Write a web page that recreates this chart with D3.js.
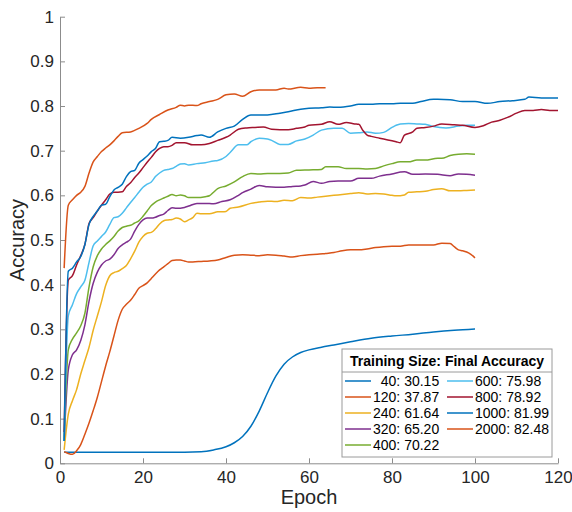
<!DOCTYPE html>
<html>
<head>
<meta charset="utf-8">
<script src="https://cdn.jsdelivr.net/npm/d3@7"></script>
<style>
  html, body { margin: 0; padding: 0; background: #fff; }
  svg { display: block; font-family: "Liberation Sans", Arial, Helvetica, sans-serif; }
  .axis text { fill: #262626; font-size: 17px; }
  .axis path, .axis line { stroke: #8c8c8c; }
</style>
</head>
<body>
<div id="chart"></div>
<script>
// training sizes and the final accuracy reported in the legend
var sizes = [40, 120, 240, 320, 400, 600, 800, 1000, 2000];
var finalAcc = [30.15, 37.87, 61.64, 65.20, 70.22, 75.98, 78.92, 81.99, 82.48];
var colors = ['#0072BD', '#D95319', '#EDB120', '#7E2F8E', '#77AC30', '#4DBEEE', '#A2142F', '#0072BD', '#D95319'];

var xTicks = [0, 20, 40, 60, 80, 100, 120];
var yTicks = [0, 0.1, 0.2, 0.3, 0.4, 0.5, 0.6, 0.7, 0.8, 0.9, 1];

// [epoch, accuracy]
var acc40 = [[1,.025],[10,.025],[20,.025],[30,.025],[34,.026],[37,.03],[40,.037],[42,.046],[44,.06],[46,.083],[48,.117],[50,.158],[52,.195],[54,.222],[56,.238],[58,.248],[60,.254],[63,.26],[66,.265],[70,.272],[75,.28],[80,.285],[85,.289],[90,.294],[95,.298],[100,.301]];
var acc120 = [[1,.026],[2,.022],[3,.02],[4,.028],[5,.042],[6,.065],[7,.09],[8,.118],[9,.148],[10,.183],[11,.218],[12,.25],[13,.285],[14,.32],[15,.345],[16,.356],[17,.365],[18,.378],[19,.392],[20,.398],[21,.404],[22,.414],[23,.424],[24,.433],[25,.44],[26,.447],[27,.454],[28,.455],[29,.455],[30,.453],[31,.451],[32,.451],[34,.452],[36,.453],[38,.455],[40,.461],[42,.466],[44,.467],[46,.466],[48,.465],[50,.467],[52,.466],[54,.464],[56,.462],[58,.465],[60,.467],[62,.468],[64,.47],[66,.472],[68,.476],[70,.478],[72,.478],[74,.48],[76,.483],[78,.485],[80,.486],[82,.486],[84,.489],[86,.489],[88,.489],[90,.489],[92,.493],[94,.492],[95,.485],[96,.478],[97,.476],[98,.473],[99,.468],[100,.46]];
var acc240 = [[1,.03],[2,.11],[3,.14],[4,.165],[5,.2],[6,.23],[7,.26],[8,.298],[9,.33],[10,.362],[11,.398],[12,.42],[13,.427],[14,.43],[15,.436],[16,.443],[17,.458],[18,.475],[19,.495],[20,.508],[21,.515],[22,.517],[23,.525],[24,.536],[25,.543],[26,.545],[27,.546],[28,.549],[29,.547],[30,.541],[31,.545],[32,.55],[33,.56],[34,.559],[36,.559],[38,.563],[40,.564],[41,.571],[43,.574],[46,.582],[48,.585],[50,.587],[52,.586],[54,.589],[56,.588],[58,.595],[60,.594],[62,.596],[64,.598],[66,.6],[68,.602],[70,.604],[72,.606],[74,.603],[76,.604],[78,.603],[80,.6],[81,.599],[83,.601],[84,.607],[86,.608],[88,.609],[90,.613],[92,.615],[94,.61],[96,.61],[98,.611],[100,.612]];
var acc320 = [[1,.05],[2,.209],[3,.243],[4,.254],[5,.275],[6,.31],[7,.363],[8,.403],[9,.428],[10,.444],[11,.453],[12,.457],[13,.467],[14,.481],[15,.489],[16,.495],[17,.502],[18,.52],[19,.535],[20,.545],[21,.549],[22,.549],[23,.551],[24,.555],[25,.558],[26,.566],[27,.572],[28,.571],[30,.573],[31,.576],[33,.582],[35,.582],[37,.581],[39,.586],[41,.59],[43,.6],[44,.606],[46,.614],[48,.622],[50,.619],[52,.618],[54,.618],[56,.62],[58,.621],[59,.623],[61,.631],[63,.627],[65,.631],[67,.632],[70,.632],[72,.638],[75,.638],[77,.643],[80,.648],[82,.652],[83,.653],[85,.647],[88,.648],[91,.647],[94,.644],[96,.648],[98,.647],[100,.645]];
var acc400 = [[1,.05],[2,.254],[3,.278],[4,.292],[5,.308],[6,.336],[7,.395],[8,.44],[9,.465],[10,.48],[11,.49],[12,.498],[13,.508],[14,.52],[15,.528],[16,.531],[17,.533],[18,.538],[19,.543],[20,.553],[21,.565],[22,.577],[23,.585],[24,.59],[25,.594],[26,.598],[27,.602],[28,.599],[29,.601],[30,.599],[31,.595],[33,.595],[35,.597],[36,.599],[37,.607],[38,.615],[40,.621],[42,.63],[44,.642],[46,.649],[48,.648],[50,.649],[53,.649],[55,.65],[57,.656],[60,.657],[63,.658],[64,.664],[67,.664],[69,.66],[72,.66],[74,.659],[76,.66],[78,.666],[80,.671],[82,.675],[84,.675],[86,.679],[88,.679],[91,.683],[92,.683],[94,.689],[96,.692],[98,.693],[100,.692]];
var acc600 = [[1,.05],[2,.33],[3,.355],[4,.38],[5,.395],[6,.41],[7,.45],[8,.487],[9,.498],[10,.508],[11,.518],[12,.535],[13,.55],[14,.552],[15,.56],[16,.572],[17,.584],[18,.595],[19,.607],[20,.618],[21,.625],[22,.63],[23,.642],[24,.65],[25,.656],[26,.658],[27,.66],[28,.665],[29,.67],[30,.671],[31,.668],[33,.671],[35,.673],[37,.677],[38,.678],[40,.687],[41,.696],[43,.713],[45,.713],[46,.72],[48,.728],[50,.726],[51,.723],[53,.714],[55,.714],[57,.722],[59,.726],[61,.735],[63,.746],[66,.75],[68,.75],[70,.739],[72,.74],[74,.742],[76,.739],[78,.741],[80,.752],[81,.757],[82,.76],[84,.761],[86,.76],[88,.759],[90,.754],[93,.751],[96,.755],[98,.757],[100,.757]];
var acc800 = [[1,.07],[2,.41],[3,.42],[4,.444],[5,.465],[6,.49],[7,.537],[8,.55],[9,.565],[10,.578],[11,.59],[12,.603],[13,.607],[14,.607],[15,.608],[16,.62],[17,.628],[18,.64],[19,.65],[20,.662],[21,.674],[22,.685],[23,.697],[24,.705],[25,.709],[26,.709],[27,.712],[28,.718],[30,.718],[32,.713],[34,.713],[36,.716],[38,.723],[40,.73],[41,.735],[43,.748],[45,.751],[47,.752],[49,.753],[51,.748],[53,.747],[55,.747],[57,.75],[59,.753],[60,.757],[63,.759],[65,.765],[67,.759],[69,.763],[71,.76],[72,.759],[73,.745],[74,.735],[75,.732],[77,.728],[79,.724],[81,.72],[82,.718],[83,.735],[85,.742],[86,.75],[88,.752],[90,.755],[92,.76],[95,.758],[97,.757],[100,.752],[102,.756],[104,.764],[106,.768],[108,.775],[110,.784],[112,.79],[114,.79],[116,.792],[118,.79],[120,.79]];
var acc1000 = [[1,.05],[2,.43],[3,.437],[4,.451],[5,.463],[6,.49],[7,.535],[8,.553],[9,.565],[10,.578],[11,.58],[12,.597],[13,.612],[14,.618],[15,.625],[16,.642],[17,.653],[18,.656],[19,.672],[20,.68],[21,.688],[22,.698],[23,.705],[24,.72],[25,.721],[26,.723],[27,.73],[29,.728],[31,.73],[33,.734],[34,.735],[36,.73],[38,.742],[40,.75],[42,.755],[44,.77],[46,.78],[48,.78],[50,.78],[53,.784],[55,.787],[58,.793],[60,.795],[63,.796],[65,.798],[67,.797],[70,.8],[72,.804],[75,.804],[77,.805],[80,.805],[82,.806],[85,.806],[87,.81],[90,.815],[91,.815],[94,.814],[97,.81],[100,.81],[103,.806],[106,.81],[109,.812],[112,.815],[113,.82],[116,.818],[120,.818]];
var acc2000 = [[1,.437],[2,.578],[3,.59],[4,.6],[5,.607],[6,.62],[7,.65],[8,.675],[9,.687],[10,.698],[11,.706],[12,.713],[13,.722],[14,.732],[15,.74],[17,.742],[19,.75],[21,.761],[22,.77],[24,.781],[26,.791],[28,.797],[29,.802],[30,.8],[31,.802],[33,.801],[34,.805],[36,.81],[38,.815],[40,.825],[42,.827],[44,.822],[46,.832],[48,.836],[50,.836],[52,.836],[54,.84],[55,.838],[58,.842],[60,.84],[62,.841],[64,.841]];

var curves = [acc40, acc120, acc240, acc320, acc400, acc600, acc800, acc1000, acc2000];

var width = 572, height = 512;

var x = d3.scaleLinear().domain([0, 120]).range([60, 558]);
var y = d3.scaleLinear().domain([0, 1]).range([463.3, 16.7]);

var svg = d3.select('#chart').append('svg')
    .attr('width', width)
    .attr('height', height);

// axes, ticks pointing inward like matlab
svg.append('g')
    .attr('class', 'axis')
    .attr('transform', 'translate(0,' + y(0) + ')')
    .call(d3.axisBottom(x).tickValues(xTicks).tickFormat(d3.format('d'))
        .tickSizeInner(-5).tickSizeOuter(0).tickPadding(8));

svg.append('g')
    .attr('class', 'axis')
    .attr('transform', 'translate(' + x(0) + ',0)')
    .call(d3.axisLeft(y).tickValues(yTicks).tickFormat(function(d) { return d === 0 || d === 1 ? d : d3.format('.1f')(d); })
        .tickSizeInner(-5).tickSizeOuter(0).tickPadding(6));

svg.append('text')
    .attr('x', (x(0) + x(120)) / 2)
    .attr('y', 504)
    .attr('text-anchor', 'middle')
    .attr('fill', '#262626')
    .style('font-size', '20px')
    .text('Epoch');

svg.append('text')
    .attr('transform', 'translate(24,' + (y(0) + y(1)) / 2 + ') rotate(-90)')
    .attr('text-anchor', 'middle')
    .attr('fill', '#262626')
    .style('font-size', '20px')
    .text('Accuracy');

var line = d3.line()
    .curve(d3.curveMonotoneX)
    .x(function(d) { return x(d[0]); })
    .y(function(d) { return y(d[1]); });

svg.append('g').selectAll('path')
    .data(curves)
    .enter().append('path')
    .attr('d', line)
    .attr('fill', 'none')
    .attr('stroke', function(d, i) { return colors[i]; })
    .attr('stroke-width', 1.5)
    .attr('stroke-linejoin', 'round');

// legend: two columns, filled top to bottom
var lg = svg.append('g').attr('class', 'legend');
var lgX = 342, lgY = 349, lgW = 210, lgH = 108;

lg.append('rect')
    .attr('x', lgX).attr('y', lgY)
    .attr('width', lgW).attr('height', lgH)
    .attr('fill', '#fff')
    .attr('stroke', '#9a9a9a');

lg.append('line')
    .attr('x1', lgX).attr('x2', lgX + lgW)
    .attr('y1', lgY + 23).attr('y2', lgY + 23)
    .attr('stroke', '#9a9a9a');

lg.append('text')
    .attr('x', lgX + lgW / 2)
    .attr('y', lgY + 17)
    .attr('text-anchor', 'middle')
    .attr('fill', '#000')
    .style('font-size', '14px')
    .style('font-weight', 'bold')
    .text('Training Size: Final Accuracy');

var item = lg.selectAll('g.item')
    .data(sizes)
    .enter().append('g')
    .attr('class', 'item')
    .attr('transform', function(d, i) {
        var col = Math.floor(i / 5), row = i % 5;
        return 'translate(' + (lgX + 3 + col * 102) + ',' + (lgY + 32 + row * 16) + ')';
    });

item.append('line')
    .attr('x1', 0).attr('x2', 26)
    .attr('stroke', function(d, i) { return colors[i]; })
    .attr('stroke-width', 1.5);

item.append('text')
    .attr('x', 28)
    .attr('dy', '0.35em')
    .attr('fill', '#000')
    .style('font-size', '14px')
    .text(function(d, i) {
        var s = String(d);
        if (i < 5) while (s.length < 3) s = '\u2007' + s;
        return s + ': ' + finalAcc[i].toFixed(2);
    });
</script>
</body>
</html>
